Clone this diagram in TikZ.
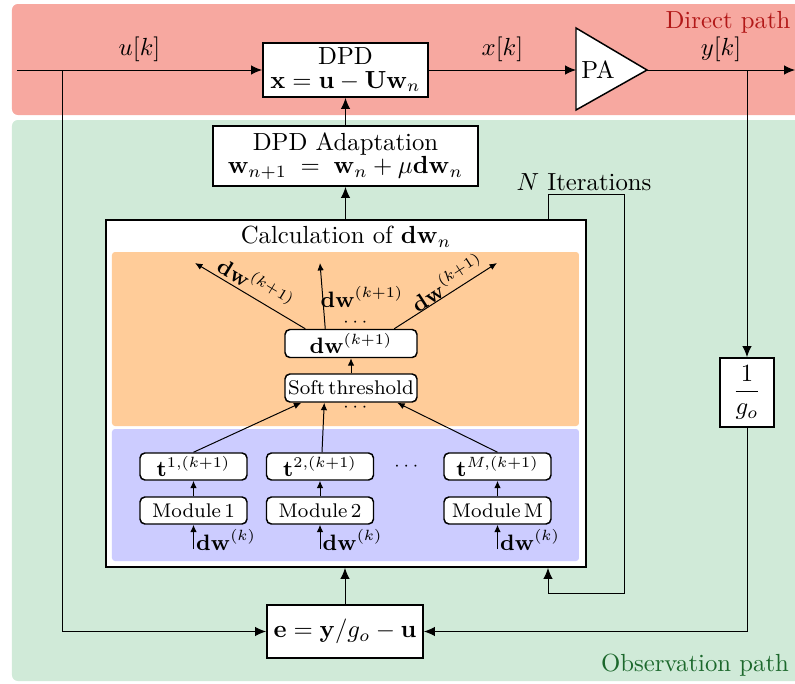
\documentclass[tikz,border=0pt]{standalone}
\usepackage{amsmath}
\usetikzlibrary{arrows.meta,calc}
\definecolor{redbg}{RGB}{247,168,160}
\definecolor{greenbg}{RGB}{208,234,216}
\definecolor{orangebg}{RGB}{255,204,153}
\definecolor{bluebg}{RGB}{204,204,255}
\definecolor{redtxt}{RGB}{178,24,24}
\definecolor{greentxt}{RGB}{28,104,44}
\begin{document}
\begin{tikzpicture}[x=0.404pt,y=-0.404pt,
  box/.style={draw,thick,fill=white,inner sep=0pt,align=center},
  rbox/.style={draw,semithick,fill=white,rounded corners=2pt,inner sep=0pt},
  conn/.style={thin,-{Latex[length=4.4pt,width=3.8pt]}},
  sconn/.style={thin,-{Latex[length=3pt,width=2.6pt]}},
  albl/.style={font=\small,inner sep=0pt}]
\useasboundingbox (0,0) rectangle (795,684);
% backgrounds
\fill[redbg,rounded corners=2.4pt] (12,4) rectangle (808,115);
\fill[greenbg,rounded corners=2.4pt] (12,120) rectangle (808,681);
\node[text=redtxt] (directlbl) at (728,22) {Direct path};
\node[text=greentxt] (obslbl) at (695,665) {Observation path};

% main boxes
\node[box,minimum width={165*0.404pt},minimum height={54*0.404pt}] (dpd) at (345.5,70)
  {DPD\\[-2.6pt]$\mathbf{x}=\mathbf{u}-\mathbf{U}\mathbf{w}_n$};
\node[box,minimum width={265*0.404pt},minimum height={60*0.404pt}] (adapt) at (345.5,156)
  {DPD Adaptation\\[-2.6pt]$\mathbf{w}_{n+1}\;=\;\mathbf{w}_n+\mu\mathbf{dw}_n$};
\node[box,minimum width={156*0.404pt},minimum height={53*0.404pt}] (e) at (345,631.5)
  {$\mathbf{e}=\mathbf{y}/g_o-\mathbf{u}$};
\node[box,minimum width={54*0.404pt},minimum height={69*0.404pt}] (g) at (747,392.5)
  {$\dfrac{1}{g_o}$};
\node[box,minimum width={480*0.404pt},minimum height={347*0.404pt}] (calc) at (346,393.5) {};

% PA triangle
\coordinate (paW) at (576,70);
\coordinate (paE) at (647,70);
\draw[semithick,fill=white] (576,28) -- (paE) -- (576,110) -- cycle;
\node (pa) at (598,70) {PA};

% direct path connectors
\coordinate (in) at (17,70);
\coordinate (out) at (795,70);
\coordinate (bu) at (62,70);
\coordinate (by) at (747,70);
\draw[conn] (in) -- (dpd.west) node[pos=0.5,above] {$u[k]$};
\draw[conn] (dpd.east) -- (paW) node[pos=0.5,above] {$x[k]$};
\draw[conn] (paE) -- (out) node[pos=0.5,above] {$y[k]$};
\draw[conn] (bu) |- (e.west);
\draw[conn] (by) -- (g.north);
\draw[conn] (g.south) |- (e.east);
\draw[conn] (e.north) -- (e.north |- calc.south);
\draw[conn] (adapt.south |- calc.north) -- (adapt.south);
\draw[conn] (adapt.north) -- (dpd.south);

% iterations loop
\coordinate (itA) at (548,194);
\coordinate (itB) at (624,194);
\coordinate (itC) at (624,593);
\coordinate (itD) at (548,593);
\draw[conn] (itA |- calc.north) -- (itA) -- (itB) -- (itC) -- (itD) -- (itD |- calc.south);
\node (itlbl) at (584,182) {$N$ Iterations};

% inside calculation block
\node (calctitle) at (346,237) {Calculation of $\mathbf{dw}_n$};
\fill[orangebg,rounded corners=1.2pt] (112,252) rectangle (579,426);
\fill[bluebg,rounded corners=1.2pt] (112,429) rectangle (579,561);

\node[rbox,minimum width={132*0.404pt},minimum height={28*0.404pt},font=\small] (dwb) at (351,343.5)
  {$\mathbf{dw}^{(k+1)}$};
\node[rbox,minimum width={132*0.404pt},minimum height={28*0.404pt},font=\footnotesize] (soft) at (351,388)
  {Soft\,threshold};
\draw[sconn] (soft.north) -- (dwb.south);
\node[font=\scriptsize,inner sep=0pt] (dotsA) at (357,322) {$\cdots$};
\node[font=\scriptsize,inner sep=0pt] (dotsB) at (357,407) {$\cdots$};

\coordinate (oL) at (195,263);
\coordinate (oM) at (320,263);
\coordinate (oR) at (497,263);
\draw[sconn] ($(dwb.north west)+(21,0)$) -- (oL);
\draw[sconn] ($(dwb.north west)+(41,0)$) -- (oM);
\draw[sconn] ($(dwb.north west)+(110,0)$) -- (oR);
\node[albl,rotate=-31] (lblL) at (256,283) {$\mathbf{dw}^{(k+1)}$};
\node[albl] (lblM) at (362,297) {$\mathbf{dw}^{(k+1)}$};
\node[albl,rotate=33] (lblR) at (447,282) {$\mathbf{dw}^{(k+1)}$};

% modules
\foreach \nm/\xx/\supx/\lab in {1/193.5/1/1, 2/320/2/2, M/497.5/M/M}{
  \node[rbox,minimum width={107*0.404pt},minimum height={27*0.404pt},font=\small] (t\nm) at (\xx,466.5)
    {$\mathbf{t}^{\supx,(k+1)}$};
  \node[rbox,minimum width={107*0.404pt},minimum height={27*0.404pt},font=\footnotesize] (m\nm) at (\xx,510.5)
    {Module\,\lab};
  \draw[sconn] (m\nm.north) -- (t\nm.south);
  \coordinate (k\nm) at (\xx,549);
  \draw[sconn] (k\nm) -- (m\nm.south);
  \node[font=\small,anchor=west,inner sep=0.5pt] (kl\nm) at (\xx+1,540) {$\mathbf{dw}^{(k)}$};
}
\node[font=\scriptsize,inner sep=0pt] (dotsC) at (408,466) {$\cdots$};

\draw[sconn] (t1.north) -- ($(soft.south west)+(17,0)$);
\draw[sconn] ($(t2.north)+(2,0)$) -- ($(soft.south west)+(40,0)$);
\draw[sconn] (tM.north) -- ($(soft.south west)+(113,0)$);
\end{tikzpicture}
\end{document}
